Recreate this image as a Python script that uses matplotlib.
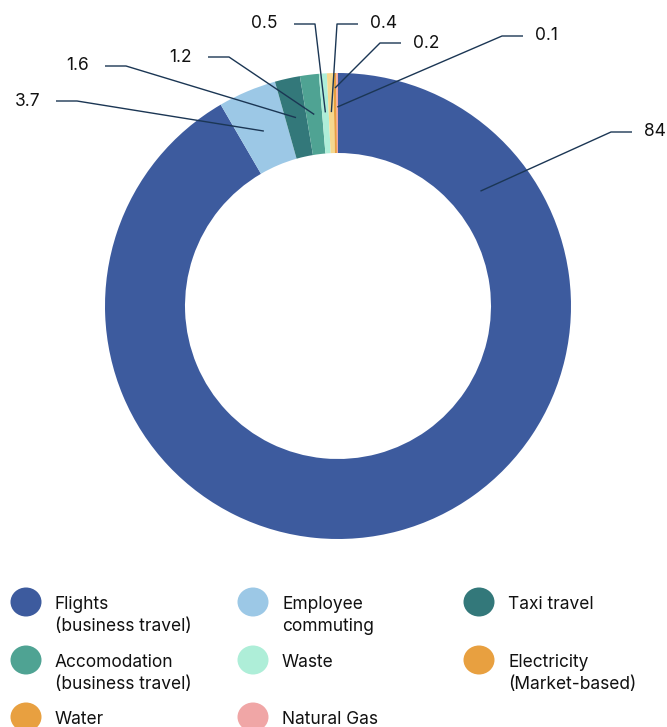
import numpy as np
import matplotlib
matplotlib.use("Agg")
import matplotlib.pyplot as plt
from matplotlib.patches import Ellipse

plt.rcParams["font.family"] = ["Inter", "DejaVu Sans"]

# data
categories = [
    "Flights\n(business travel)",
    "Employee\ncommuting",
    "Taxi travel",
    "Accomodation\n(business travel)",
    "Waste",
    "Electricity\n(Market-based)",
    "Water",
    "Natural Gas",
]
values = [84, 3.7, 1.6, 1.2, 0.5, 0.4, 0.2, 0.1]
value_labels = ["84", "3.7", "1.6", "1.2", "0.5", "0.4", "0.2", "0.1"]
slice_colors = ["#3d5b9e", "#9cc8e6", "#33787a", "#4fa393", "#aeeed8",
                "#f6d88e", "#e8a040", "#f0a5a5"]
legend_colors = ["#3d5b9e", "#9cc8e6", "#33787a", "#4fa393", "#aeeed8",
                 "#e8a040", "#e8a040", "#f0a6a6"]

W, H = 667, 727
CX, CY = 338, 306          # donut centre in pixels
R_OUT, R_IN = 233, 153
LINE = "#1b3654"

# label layout: (elbow x, elbow y, side, anchor fraction along wedge, anchor radius)
label_layout = [
    (611, 132, "right", 0.155, 183),
    (77, 101, "left", 0.5, 190),
    (126, 66, "left", 0.5, 193),
    (229, 57, "left", 0.5, 193),
    (315, 24, "left", 0.5, 194),
    (337, 24, "right", 0.5, 194),
    (380, 43, "right", 0.5, 218),
    (502, 36, "right", 0.5, 199),
]

fig = plt.figure(figsize=(W / 100, H / 100), dpi=100)
ax = fig.add_axes([(CX - R_OUT) / W, 1 - (CY + R_OUT) / H, 2 * R_OUT / W, 2 * R_OUT / H])
ax.pie(values, colors=slice_colors, startangle=90, counterclock=False, radius=1,
       wedgeprops=dict(width=(R_OUT - R_IN) / R_OUT, edgecolor="none"))
ax.set_xlim(-1, 1)
ax.set_ylim(-1, 1)
ax.set_aspect("equal")
ax.axis("off")

# overlay in pixel coordinates for leader lines and legend
ov = fig.add_axes([0, 0, 1, 1])
ov.set_xlim(0, W)
ov.set_ylim(H, 0)
ov.axis("off")

total = sum(values)
start = 90.0
for v, lab, (ex, ey, side, frac, r) in zip(values, value_labels, label_layout):
    span = v / total * 360
    theta = np.radians(start - frac * span)
    start -= span
    ax_x = CX + r * np.cos(theta)
    ax_y = CY - r * np.sin(theta)
    hx = ex + 21 if side == "right" else ex - 21
    ov.plot([ax_x, ex, hx], [ax_y, ey, ey], color=LINE, lw=1, solid_capstyle="butt")
    if side == "right":
        ov.text(hx + 12, ey, lab, ha="left", va="center", fontsize=12.5, color="#111111")
    else:
        ov.text(hx - 16, ey, lab, ha="right", va="center", fontsize=12.5, color="#111111")

# legend
col_x = [26, 253, 479]
row_y = [602, 660, 717]
for i, (name, c) in enumerate(zip(categories, legend_colors)):
    mx = col_x[i % 3]
    my = row_y[i // 3]
    ov.add_patch(Ellipse((mx, my), 31, 29, facecolor=c, edgecolor="none"))
    ov.text(mx + 29, my - 6, name, ha="left", va="top", fontsize=12.5,
            color="#111111", linespacing=1.42)

fig.savefig("out.png", dpi=100)
